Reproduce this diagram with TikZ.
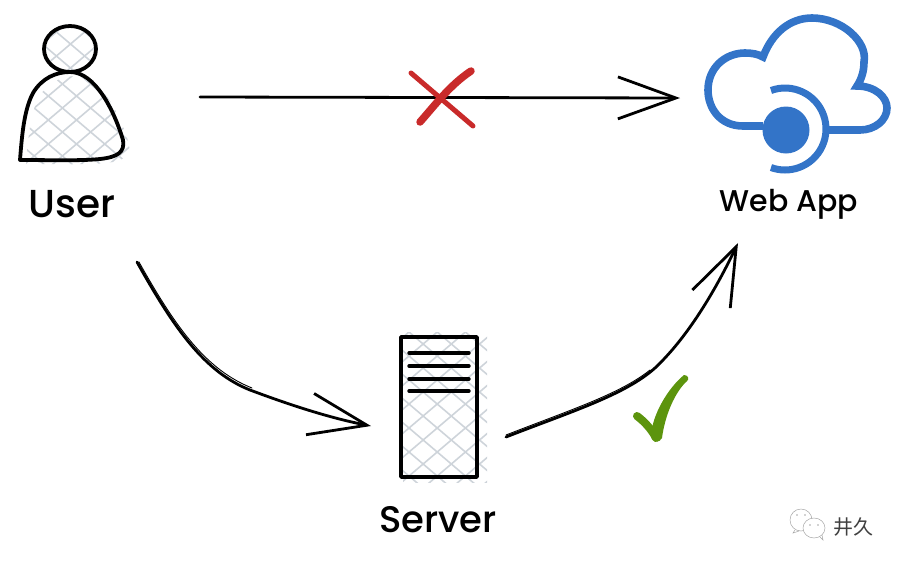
\documentclass[tikz,border=0pt]{standalone}
\usepackage{fontspec}
\setmainfont{Poppins}[UprightFont=* Medium]
\newfontfamily\cjkfont{Noto Sans CJK SC}
\usetikzlibrary{arrows.meta}
\definecolor{hatchgray}{HTML}{CED4DA}
\definecolor{crossred}{HTML}{C92A2A}
\definecolor{checkgreen}{HTML}{5C940D}
\definecolor{cloudblue}{HTML}{3374C8}
\newcommand{\crosshatch}{%
  \foreach \c in {-1000,-976,...,1500}
    \draw[hatchgray,line width=1.6] (0,\c) -- ++(905,770) (0,\c) -- ++(905,-770);}

\begin{document}
\begin{tikzpicture}[x=1pt,y=-1pt,line cap=round,>={Straight Barb[length=58pt,width=42pt,line width=2.8pt]}]
\tikzstyle{label}=[text=black]
\tikzstyle{icon}=[draw=black,line width=3.8,line join=round]
\tikzstyle{sketch}=[->,draw=black,line width=2.8]
\tikzstyle{sketchthin}=[draw=black,line width=0.9]
\useasboundingbox (0,0) rectangle (905,566);
% user
\begin{scope}
\clip (70,49) ellipse [x radius=26,y radius=23];
\crosshatch
\end{scope}
\begin{scope}[shift={(6,4)}]
\clip (20,160) .. controls (22,135) and (24,110) .. (33,93) .. controls (42,78) and (56,72) .. (70,72) .. controls (95,72) and (114,110) .. (123,140) .. controls (125,152) and (118,157) .. (100,159) .. controls (80,161) and (50,160) .. (20,160) -- cycle;
\crosshatch
\end{scope}
\draw[icon] (70,49) ellipse [x radius=26,y radius=23];
\draw[icon] (20,160) .. controls (22,135) and (24,110) .. (33,93) .. controls (42,78) and (56,72) .. (70,72) .. controls (95,72) and (114,110) .. (123,140) .. controls (125,152) and (118,157) .. (100,159) .. controls (80,161) and (50,160) .. (20,160) -- cycle;
\node[label,font=\fontsize{39}{44}\selectfont] (user) at (72,204) {User};
% server
\begin{scope}
\clip (403,332) rectangle (487,482);
\crosshatch
\end{scope}
\draw[icon] (401,337) rectangle (477,477);
\foreach \y in {353,366,379,391}
  \draw[icon,line width=3.4] (409,\y) -- (469,\y);
\node[label,font=\fontsize{37}{44}\selectfont] (server) at (438,520) {Server};
% web app
\draw[cloudblue,line width=7.6,line cap=butt,miter limit=10] (763,126) -- (743,126) .. controls (720,126) and (708,108) .. (708,90) .. controls (708,68) and (725,53) .. (745,53) .. controls (752,53) and (758,54) .. (763,57) .. controls (772,33) and (790,18) .. (812,18) .. controls (842,18) and (868,42) .. (864,62) .. controls (864,72) and (861,80) .. (857,86) .. controls (875,86) and (887,97) .. (887,108) .. controls (887,120) and (875,130) .. (860,130) -- (828,130);
\fill[cloudblue] (786,130) circle [radius=23.5];
\draw[cloudblue,line width=7,line cap=butt] (785,129) ++(-110:41) arc [start angle=-110,end angle=110,radius=41];
\node[label,font=\fontsize{30}{36}\selectfont] (webapp) at (789,204) {Web App};
% connectors
\coordinate (userright) at (200,97);
\coordinate (webleft) at (680,98);
\coordinate (userdown) at (137,262);
\coordinate (serverleft) at (371,426);
\coordinate (serverright) at (506,437);
\coordinate (webdown) at (738,243);
\draw[sketch] (userright) -- (webleft);
\draw[sketch] (userdown) .. controls (175,330) and (205,372) .. (250,390) .. controls (290,405) and (330,418) .. (serverleft);
\draw[sketchthin] (userdown) ++(2,0) .. controls (177,330) and (207,370) .. (252,388);
\draw[sketch] (serverright) .. controls (570,412) and (625,395) .. (655,368) .. controls (690,335) and (718,285) .. (webdown);
\draw[sketchthin] (serverright) ++(0,-2) .. controls (570,410) and (620,394) .. (650,370);
% marks
\draw[crossred,line width=5] (411,73) -- (473,126);
\draw[crossred,line width=7.5] (471,71) .. controls (450,85) and (435,105) .. (420,122);
\draw[checkgreen,line width=8] (637,416) .. controls (645,422) and (652,430) .. (656,438);
\fill[checkgreen] (651,436) .. controls (652,415) and (668,388) .. (684,375) .. controls (689,375) and (689,380) .. (687,381) .. controls (675,392) and (665,415) .. (662,438) .. controls (660,443) and (652,443) .. (651,436) -- cycle;
% watermark
\begin{scope}[gray!70,line width=0.5]
\draw[fill=white] (801,520) ellipse [x radius=11,y radius=11];
\draw (795,530) -- (793,533) -- (799,531);
\draw[fill=white] (814,528) ellipse [x radius=11,y radius=10];
\draw (820,537) -- (823,540) -- (822,535);
\fill (797,515) circle [radius=0.9] (805,515) circle [radius=0.9] (810,525) circle [radius=0.9] (818,525) circle [radius=0.9];
\end{scope}
\node[text=black!75,font=\cjkfont\fontsize{20}{20}\selectfont,inner sep=0pt] (mark) at (853,527) {井久};
\end{tikzpicture}
\end{document}
